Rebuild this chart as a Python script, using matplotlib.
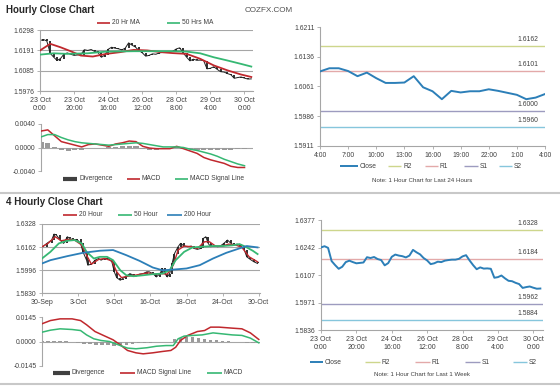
import matplotlib
matplotlib.use('Agg')
import matplotlib.pyplot as plt
from matplotlib.lines import Line2D
import numpy as np

plt.rcParams['font.family'] = ['Liberation Sans', 'DejaVu Sans']

W, H = 560, 386

# ---------------- hourly data (bar = hours since 23 Oct 0:00) ----------------
hr_bar = list(range(0, 125, 2))
hr_close = [1.6242, 1.6248, 1.6240, 1.6175, 1.6155, 1.6137, 1.6147, 1.6170, 1.6177, 1.6170,
            1.6164, 1.6166, 1.6168, 1.6194, 1.6190, 1.6195, 1.6185, 1.6180, 1.6154, 1.6165,
            1.6196, 1.6207, 1.6202, 1.6199, 1.6193, 1.6202, 1.6230, 1.6218, 1.6208, 1.6190,
            1.6178, 1.6160, 1.6164, 1.6172, 1.6170, 1.6177, 1.6180, 1.6182, 1.6182, 1.6186,
            1.6198, 1.6204, 1.6178, 1.6155, 1.6135, 1.6144, 1.6138, 1.6139, 1.6137, 1.6093,
            1.6096, 1.6104, 1.6090, 1.6078, 1.6076, 1.6068, 1.6062, 1.6043, 1.6047, 1.6050,
            1.6044, 1.6039, 1.6040]
hr_ticks = [0, 20, 40, 60, 80, 100, 120]
hr_labels = ['23 Oct\n0:00', '23 Oct\n20:00', '24 Oct\n16:00', '26 Oct\n12:00',
             '28 Oct\n8:00', '29 Oct\n4:00', '30 Oct\n0:00']

ma20_bar = [0, 6, 12, 18, 24, 31, 39, 47, 55, 63, 71, 78, 86, 94, 102, 110, 118, 124]
ma20 = [1.6190, 1.6225, 1.6207, 1.6186, 1.6163, 1.6158, 1.6172, 1.6181, 1.6193, 1.6190,
        1.6181, 1.6176, 1.6172, 1.6146, 1.6111, 1.6085, 1.6063, 1.6050]
ma50_bar = [0, 8, 16, 28, 39, 55, 67, 78, 86, 94, 102, 110, 118, 124]
ma50 = [1.6168, 1.6175, 1.6172, 1.6175, 1.6184, 1.6186, 1.6186, 1.6186, 1.6184, 1.6175,
        1.6154, 1.6137, 1.6119, 1.6105]

hr_macd_bar = list(range(0, 121, 4))
hr_macd = [0.0028, 0.0030, 0.0020, 0.0010, 0.0007, 0.0004, 0.0001, 0.0005, 0.0006, 0.0004,
           0.0002, 0.0006, 0.0008, 0.0011, 0.0010, 0.0002, -0.0001, -0.0002, -0.0002, -0.0002,
           0.0002, -0.0002, -0.0006, -0.0010, -0.0017, -0.0021, -0.0024, -0.0027, -0.0032,
           -0.0034, -0.0034]
hr_signal = [0.0018, 0.0022, 0.0022, 0.0017, 0.0013, 0.0010, 0.0008, 0.0007, 0.0006, 0.0005,
             0.0004, 0.0005, 0.0006, 0.0007, 0.0008, 0.0007, 0.0005, 0.0003, 0.0001, 0.0001,
             0.0001, 0.0000, -0.0003, -0.0005, -0.0008, -0.0011, -0.0015, -0.0020, -0.0024,
             -0.0028, -0.0031]
hr_div = [0.0010, 0.0008, 0.0001, -0.0005, -0.0006, -0.0005, -0.0004, -0.0001, 0.0000, -0.0001,
          0.0001, 0.0001, 0.0002, 0.0003, 0.0002, -0.0002, -0.0004, -0.0004, -0.0003, -0.0002,
          0.0001, -0.0002, -0.0003, -0.0004, -0.0005, -0.0005, -0.0005, -0.0004, -0.0004,
          -0.0003, -0.0002]

# ---------------- last 24 hours ----------------
day_labels = ['4:00', '7:00', '10:00', '13:00', '16:00', '19:00', '22:00', '1:00', '4:00']
day_close = [1.6099, 1.6107, 1.6107, 1.6100, 1.6087, 1.6096, 1.6082, 1.6070, 1.6070, 1.6071,
             1.6087, 1.6059, 1.6049, 1.6029, 1.6050, 1.6046, 1.6049, 1.6049, 1.6054, 1.6050,
             1.6045, 1.6040, 1.6029, 1.6033, 1.6042]
day_levels = {'R2': 1.6162, 'R1': 1.6101, 'S1': 1.6000, 'S2': 1.5960}
week_levels = {'R2': 1.6328, 'R1': 1.6184, 'S1': 1.5962, 'S2': 1.5884}

# ---------------- 4 hourly data (bar = 4h bars since 30 Sep) ----------------
fh_bar = [0, 4, 8, 10, 12, 15, 18, 21, 23, 26, 29, 32, 34, 37, 38, 41, 44, 47, 49, 52, 55, 58,
          60, 62, 65, 67, 70, 73, 76, 78, 81, 84, 87, 89, 92, 95, 98, 100, 102, 104, 106, 108,
          110, 113, 115, 118, 121, 124, 126, 129, 132, 134, 136, 138, 140, 143, 146, 148, 151,
          154, 157, 159, 162, 165, 168, 170, 173, 176, 179]
fh_close = [1.6159, 1.6188, 1.6212, 1.6255, 1.6248, 1.6212, 1.6188, 1.6236, 1.6224, 1.6212,
            1.6217, 1.6188, 1.6127, 1.6067, 1.6031, 1.6038, 1.6067, 1.6079, 1.6067, 1.6079,
            1.6079, 1.6055, 1.5983, 1.5941, 1.5922, 1.5934, 1.5951, 1.5970, 1.5958, 1.5951,
            1.5966, 1.5970, 1.5983, 1.5983, 1.5970, 1.5946, 1.5970, 1.6007, 1.5970, 1.5946,
            1.5970, 1.6043, 1.6115, 1.6164, 1.6188, 1.6169, 1.6164, 1.6169, 1.6152, 1.6145,
            1.6152, 1.6224, 1.6236, 1.6188, 1.6164, 1.6169, 1.6164, 1.6169, 1.6188, 1.6212,
            1.6188, 1.6176, 1.6183, 1.6169, 1.6140, 1.6091, 1.6072, 1.6055, 1.6043]
fh_ticks = [0, 30, 60, 90, 120, 150, 180]
fh_labels = ['30-Sep', '3-Oct', '9-Oct', '16-Oct', '18-Oct', '24-Oct', '30-Oct']

fh20_bar = [0, 5, 11, 16, 22, 27, 33, 37, 41, 47, 52, 58, 62, 66, 71, 77, 82, 88, 93, 99, 104,
            109, 113, 118, 124, 129, 135, 139, 144, 150, 155, 161, 166, 172, 179]
fh20 = [1.6164, 1.6188, 1.6236, 1.6207, 1.6217, 1.6212, 1.6176, 1.6103, 1.6038, 1.6072,
        1.6079, 1.6062, 1.5983, 1.5941, 1.5951, 1.5958, 1.5966, 1.5975, 1.5966, 1.5970,
        1.5966, 1.6031, 1.6140, 1.6169, 1.6164, 1.6152, 1.6200, 1.6200, 1.6169, 1.6169,
        1.6183, 1.6176, 1.6159, 1.6091, 1.6055]
fh50_bar = [0, 7, 14, 21, 27, 33, 37, 43, 48, 54, 59, 65, 70, 76, 84, 92, 100, 106, 111, 118,
            125, 133, 142, 150, 158, 164, 169, 175, 179]
fh50 = [1.6079, 1.6127, 1.6188, 1.6207, 1.6212, 1.6188, 1.6127, 1.6079, 1.6091, 1.6091,
        1.6067, 1.5994, 1.5958, 1.5951, 1.5958, 1.5966, 1.5970, 1.5994, 1.6067, 1.6127,
        1.6159, 1.6164, 1.6169, 1.6169, 1.6174, 1.6183, 1.6164, 1.6135, 1.6111]
fh200_bar = [0, 7, 21, 34, 48, 59, 70, 81, 92, 100, 109, 120, 131, 142, 153, 164, 170, 179]
fh200 = [1.6043, 1.6067, 1.6096, 1.6120, 1.6135, 1.6140, 1.6103, 1.6062, 1.6014, 1.5994,
         1.5999, 1.6007, 1.6031, 1.6079, 1.6120, 1.6152, 1.6169, 1.6159]

fh_sig_bar = [0, 7, 15, 25, 32, 37, 44, 51, 59, 65, 71, 78, 84, 92, 100, 107, 111, 115, 121,
              129, 135, 140, 147, 158, 166, 173, 180]
fh_signal = [0.0105, 0.0124, 0.0134, 0.0134, 0.0124, 0.0099, 0.0059, 0.0036, 0.0010, -0.0020,
             -0.0053, -0.0067, -0.0073, -0.0067, -0.0059, -0.0053, -0.0034, 0.0006, 0.0036,
             0.0059, 0.0065, 0.0085, 0.0085, 0.0079, 0.0075, 0.0051, 0.0012]
fh_macd_bar = [0, 7, 15, 25, 32, 37, 43, 49, 56, 65, 71, 78, 87, 95, 103, 109, 113, 118, 125,
               133, 142, 150, 158, 166, 173, 180]
fh_macd = [0.0055, 0.0067, 0.0075, 0.0071, 0.0065, 0.0039, 0.0016, 0.0006, 0.0000, -0.0024,
           -0.0039, -0.0043, -0.0037, -0.0028, -0.0024, -0.0024, 0.0016, 0.0032, 0.0036,
           0.0039, 0.0051, 0.0045, 0.0039, 0.0036, 0.0020, -0.0008]
fh_div_bar = list(range(0, 181, 5))
fh_div = [0.0002, 0.0003, 0.0003, 0.0002, 0.0001, -0.0002, -0.0006, -0.0012, -0.0016, -0.0020,
          -0.0022, -0.0023, -0.0024, -0.0022, -0.0018, -0.0014, -0.0010, -0.0008, -0.0006,
          -0.0004, -0.0002, 0.0000, 0.0012, 0.0022, 0.0026, 0.0024, 0.0020, 0.0012, 0.0008,
          0.0006, 0.0004, 0.0002, -0.0001, -0.0004, -0.0007, -0.0009, -0.0010]

RED = '#c0282d'
GREEN = '#36b873'
BLUE = '#2c7fb8'
GRID = '#a6a6a6'
TXT = '#404040'
LEVEL_COLORS = {'R2': '#cdd68c', 'R1': '#e3a9a9', 'S1': '#9d9bbf', 'S2': '#86c6dc'}

fig = plt.figure(figsize=(W / 100, H / 100), dpi=100)


def add_ax(x0, y0, x1, y1):
    return fig.add_axes([x0 / W, 1 - y1 / H, (x1 - x0) / W, (y1 - y0) / H])


def fy(y):
    return 1 - y / H


def legend_item(x0, x1, y, color, label, lw=1.2):
    fig.add_artist(Line2D([x0 / W, x1 / W], [fy(y)] * 2, color=color, lw=lw,
                          solid_capstyle='butt', transform=fig.transFigure))
    fig.text((x1 + 2) / W, fy(y), label, fontsize=4.8, color=TXT, va='center', ha='left')


def base_style(ax):
    for s in ['top', 'right']:
        ax.spines[s].set_visible(False)
    for s in ['left', 'bottom']:
        ax.spines[s].set_color(GRID)
        ax.spines[s].set_linewidth(0.8)
    ax.tick_params(colors=GRID, labelcolor=TXT, labelsize=4.9, length=2, width=0.6, pad=2)
    ax.patch.set_alpha(0)


def candles(ax, bars, close):
    close = np.array(close)
    ax.vlines(bars[1:], np.minimum(close[:-1], close[1:]), np.maximum(close[:-1], close[1:]),
              color='#202020', lw=1.3, zorder=2)
    ax.plot(bars, close, color='#202020', lw=0.7, zorder=2)


# ================= Hourly Close Chart =================
fig.text(6 / W, fy(10), 'Hourly Close Chart', fontsize=7, fontweight='bold',
         color='#262626', va='center')
fig.text(245 / W, fy(10), 'COZFX.COM', fontsize=5.9, color='#505050', va='center')

ax = add_ax(40, 30, 253, 91)
base_style(ax)
candles(ax, hr_bar, hr_close)
ax.plot(ma20_bar, ma20, color=RED, lw=1.3, zorder=3)
ax.plot(ma50_bar, ma50, color=GREEN, lw=1.3, zorder=3)
ax.set_xlim(0, 125)
ax.set_ylim(1.5976, 1.6298)
ax.set_yticks(np.linspace(1.5976, 1.6298, 4))
ax.set_yticklabels(['1.5976', '1.6085', '1.6191', '1.6298'])
ax.set_xticks(hr_ticks)
ax.set_xticklabels(hr_labels, linespacing=1.3, fontsize=5.0)
ax.grid(axis='y', color=GRID, lw=0.8)
ax.set_axisbelow(True)
legend_item(97, 110, 23, RED, '20 Hr MA')
legend_item(167, 180, 23, GREEN, '50 Hrs MA')

ax = add_ax(41, 124, 253, 171)
base_style(ax)
ax.spines['bottom'].set_visible(False)
ax.bar(hr_macd_bar, hr_div, width=3, color='#9a9a9a', zorder=1)
ax.axhline(0, color=GRID, lw=0.8, zorder=0)
ax.plot(hr_macd_bar, hr_macd, color=RED, lw=1.1, zorder=3)
ax.plot(hr_macd_bar, hr_signal, color=GREEN, lw=1.1, zorder=3)
ax.set_xlim(0, 125)
ax.set_ylim(-0.004, 0.004)
ax.set_yticks([-0.004, 0, 0.004])
ax.set_yticklabels(['-0.0040', '0.0000', '0.0040'])
ax.set_xticks([])
legend_item(63, 77, 179, '#404040', 'Divergence', lw=3)
legend_item(127, 140, 179, RED, 'MACD')
legend_item(175, 188, 179, GREEN, 'MACD Signal Line')

# ================= last 24 hours =================
ax = add_ax(320, 27, 545, 146)
base_style(ax)
ax.plot(range(len(day_close)), day_close, color=BLUE, lw=1.4, zorder=3)
for k, v in day_levels.items():
    ax.axhline(v, color=LEVEL_COLORS[k], lw=1.0, zorder=2)
    ax.annotate(f'{v:.4f}', xy=(0.924, v), xycoords=('axes fraction', 'data'),
                xytext=(0, 2.2), textcoords='offset points', ha='center', va='bottom',
                fontsize=4.9, color=TXT)
ax.set_xlim(0, 24)
ax.set_ylim(1.5911, 1.6211)
ax.set_yticks(np.linspace(1.5911, 1.6211, 5))
ax.set_yticklabels(['1.5911', '1.5986', '1.6061', '1.6136', '1.6211'])
ax.set_xticks(range(0, 25, 3))
ax.set_xticklabels(day_labels)
legend_item(340, 358, 166, BLUE, 'Close', lw=1.4)
legend_item(388, 401, 166, LEVEL_COLORS['R2'], 'R2', lw=1.0)
legend_item(425, 438, 166, LEVEL_COLORS['R1'], 'R1', lw=1.0)
legend_item(464, 478, 166, LEVEL_COLORS['S1'], 'S1', lw=1.0)
legend_item(499, 512, 166, LEVEL_COLORS['S2'], 'S2', lw=1.0)
fig.text(422 / W, fy(180), 'Note: 1 Hour Chart for Last 24 Hours', fontsize=4.4,
         color=TXT, ha='center', va='center')

# separators
fig.add_artist(Line2D([0, 1], [fy(193)] * 2, color='#c8c8c8', lw=1.5, transform=fig.transFigure))
fig.add_artist(Line2D([0, 1], [fy(384)] * 2, color='#c8c8c8', lw=1.5, transform=fig.transFigure))

# ================= 4 Hourly Close Chart =================
fig.text(6 / W, fy(202), '4 Hourly Close Chart', fontsize=7, fontweight='bold',
         color='#262626', va='center')

ax = add_ax(42, 224, 260, 293)
base_style(ax)
candles(ax, fh_bar, fh_close)
ax.plot(fh20_bar, fh20, color=RED, lw=1.0, zorder=3)
ax.plot(fh50_bar, fh50, color=GREEN, lw=1.3, zorder=3)
ax.plot(fh200_bar, fh200, color=BLUE, lw=1.3, zorder=3)
ax.set_xlim(0, 181)
ax.set_ylim(1.5830, 1.6328)
ax.set_yticks(np.linspace(1.5830, 1.6328, 4))
ax.set_yticklabels(['1.5830', '1.5996', '1.6162', '1.6328'])
ax.set_xticks(fh_ticks)
ax.set_xticklabels(fh_labels, fontsize=5.0)
ax.grid(axis='y', color=GRID, lw=0.8)
ax.set_axisbelow(True)
legend_item(63, 77, 215, RED, '20 Hour')
legend_item(118, 132, 215, GREEN, '50 Hour')
legend_item(167, 182, 215, BLUE, '200 Hour')

ax = add_ax(42, 317, 260, 366)
base_style(ax)
ax.spines['bottom'].set_visible(False)
ax.bar(fh_div_bar, fh_div, width=3, color='#9a9a9a', zorder=1)
ax.axhline(0, color=GRID, lw=0.8, zorder=0)
ax.plot(fh_sig_bar, fh_signal, color=RED, lw=1.1, zorder=3)
ax.plot(fh_macd_bar, fh_macd, color=GREEN, lw=1.1, zorder=3)
ax.set_xlim(0, 181)
ax.set_ylim(-0.0145, 0.0145)
ax.set_yticks([-0.0145, 0, 0.0145])
ax.set_yticklabels(['-0.0145', '0.0000', '0.0145'])
ax.set_xticks([])
legend_item(53, 70, 373, '#404040', 'Divergence', lw=3)
legend_item(120, 135, 373, RED, 'MACD Signal Line')
legend_item(207, 222, 373, GREEN, 'MACD')

# ================= last 1 week =================
ax = add_ax(321, 220, 543, 330)
base_style(ax)
ax.plot(hr_bar, hr_close, color=BLUE, lw=1.4, zorder=3)
for k, v in week_levels.items():
    ax.axhline(v, color=LEVEL_COLORS[k], lw=1.0, zorder=2)
    ax.annotate(f'{v:.4f}', xy=(0.93, v), xycoords=('axes fraction', 'data'),
                xytext=(0, 2.2), textcoords='offset points', ha='center', va='bottom',
                fontsize=4.9, color=TXT)
ax.set_xlim(0, 125.5)
ax.set_ylim(1.5836, 1.6377)
ax.set_yticks(np.linspace(1.5836, 1.6377, 5))
ax.set_yticklabels(['1.5836', '1.5971', '1.6107', '1.6242', '1.6377'])
ax.set_xticks(hr_ticks)
ax.set_xticklabels(hr_labels, linespacing=1.2, fontsize=5.0)
legend_item(310, 323, 362, BLUE, 'Close', lw=1.4)
legend_item(365, 380, 362, LEVEL_COLORS['R2'], 'R2', lw=1.0)
legend_item(415, 430, 362, LEVEL_COLORS['R1'], 'R1', lw=1.0)
legend_item(465, 480, 362, LEVEL_COLORS['S1'], 'S1', lw=1.0)
legend_item(513, 527, 362, LEVEL_COLORS['S2'], 'S2', lw=1.0)
fig.text(422 / W, fy(374), 'Note: 1 Hour Chart for Last 1 Week', fontsize=4.4,
         color=TXT, ha='center', va='center')

fig.savefig('out.png', dpi=100)
